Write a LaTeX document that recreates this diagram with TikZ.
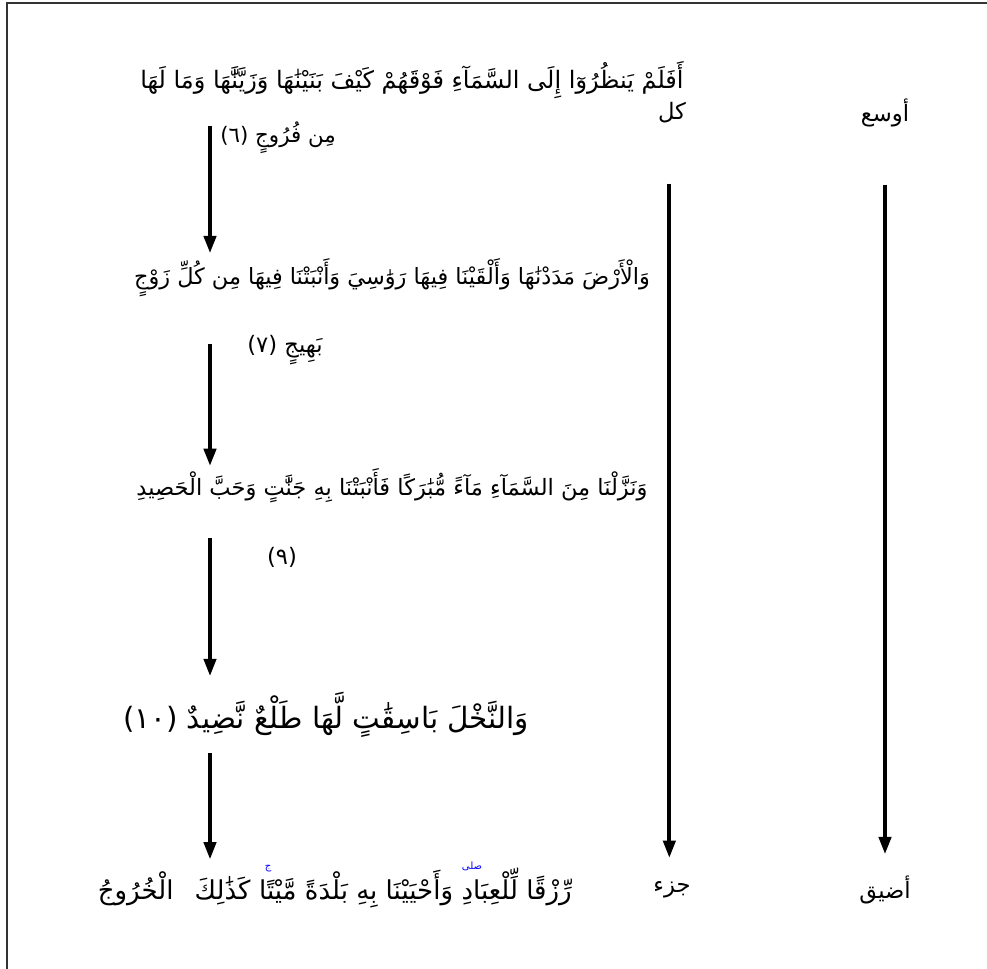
\documentclass[tikz,border=0pt]{standalone}
\usepackage{fontspec}
\usetikzlibrary{arrows.meta,positioning}
\newfontfamily\arabicfont[Script=Arabic]{DejaVu Sans}
\TeXXeTstate=1
\newcommand{\ayah}[2][16.5]{\arabicfont\fontsize{#1}{20}\selectfont\beginR #2\endR}
\newcommand{\lbl}[1]{\arabicfont\fontsize{17}{20}\selectfont\beginR #1\endR}
\newcommand{\waqf}[1]{\arabicfont\fontsize{7.5}{8}\selectfont\beginR #1\endR}

\begin{document}
\begin{tikzpicture}[x=0.75pt, y=-0.75pt, node distance=6pt,
    verse/.style={inner sep=0pt},
    term/.style={inner sep=0pt},
    pausemark/.style={inner sep=0pt, text=blue},
    flow/.style={line width=3pt, -{Triangle[length=13pt,width=9pt]}}]
  \useasboundingbox (0,0) rectangle (987,969);
  \draw[line width=2pt, black!80] (987,3) -- (7,3) -- (7,969);

  % verses
  \node[verse] (v1a) at (412,80) {\ayah[18]{أَفَلَمْ يَنظُرُوٓا إِلَى السَّمَآءِ فَوْقَهُمْ كَيْفَ بَنَيْنَٰهَا وَزَيَّنَّٰهَا وَمَا لَهَا}};
  \node[verse] (v1b) at (278,138) {\ayah[16]{مِن فُرُوجٍ (٦)}};
  \node[verse] (v2a) at (392,278) {\ayah[16.8]{وَالْأَرْضَ مَدَدْنَٰهَا وَأَلْقَيْنَا فِيهَا رَوَٰسِيَ وَأَنْبَتْنَا فِيهَا مِن كُلِّ زَوْجٍ}};
  \node[verse] (v2b) at (285,350) {\ayah[17]{بَهِيجٍ (٧)}};
  \node[verse] (v3a) at (392,486) {\ayah[16.9]{وَنَزَّلْنَا مِنَ السَّمَآءِ مَآءً مُّبَٰرَكًا فَأَنْبَتْنَا بِهِ جَنَّٰتٍ وَحَبَّ الْحَصِيدِ}};
  \node[verse] (v3b) at (282,557) {\ayah[17]{(٩)}};
  \node[verse] (v4) at (326,715) {\ayah[22]{وَالنَّخْلَ بَاسِقَٰتٍ لَّهَا طَلْعٌ نَّضِيدٌ (١٠)}};
  \node[verse, anchor=east] (v5a) at (572,887) {\ayah[19.5]{رِّزْقًا لِّلْعِبَادِ}};
  \node[verse, base left=of v5a] (v5b) {\ayah[19.5]{وَأَحْيَيْنَا بِهِ بَلْدَةً مَّيْتًا}};
  \node[verse, base left=of v5b] (v5c) {\ayah[19.5]{كَذَٰلِكَ\hspace{0.5em} الْخُرُوجُ}};
  \node[pausemark] (m1) at ([xshift=8pt, yshift=1pt]v5a.north west) {\waqf{صلى}};
  \node[pausemark] (m2) at ([xshift=7pt, yshift=1pt]v5b.north west) {\waqf{ج}};

  % scale labels
  \node[term] (wide) at (885,113) {\lbl{أوسع}};
  \node[term] (all) at (672,113) {\lbl{كل}};
  \node[term] (part) at (672,890) {\lbl{جزء}};
  \node[term] (narrow) at (885,890) {\lbl{أضيق}};

  \coordinate (s1) at (210,126);
  \coordinate (s2) at (210,344);
  \coordinate (s3) at (210,538);
  \coordinate (s4) at (210,753);

  \draw[flow, shorten >=4pt] (s1) -- (s1 |- v2a.north);
  \draw[flow, shorten >=2pt] (s2) -- (s2 |- v3a.north);
  \draw[flow, shorten >=12pt] (s3) -- (s3 |- v4.north);
  \draw[flow, shorten >=6pt] (s4) -- (s4 |- v5a.north);

  \draw[flow, shorten <=43pt, shorten >=16pt] (wide) -- (narrow);
  \draw[flow, shorten <=53pt, shorten >=24pt] ([xshift=-2pt]all.center) -- ([xshift=-2pt]part.center);
\end{tikzpicture}
\end{document}
